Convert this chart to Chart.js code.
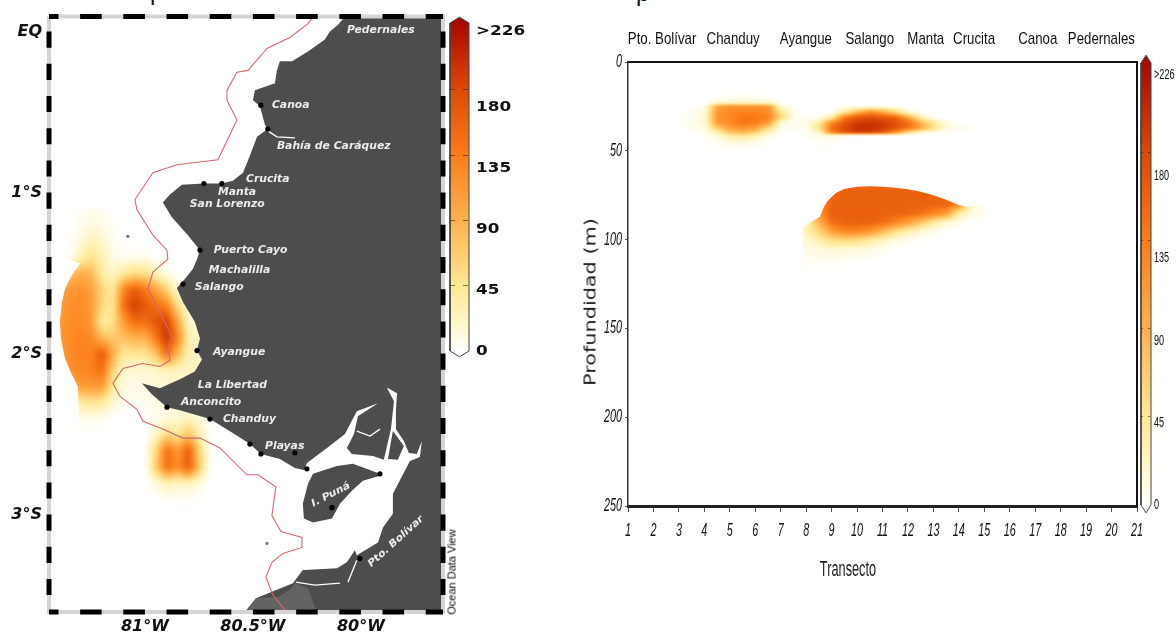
<!DOCTYPE html>
<html lang="es">
<head>
<meta charset="utf-8">
<title>Mapa y transecto</title>
<style>
  html, body { margin: 0; padding: 0; background: #fff; overflow: hidden; }
  body { width: 1176px; height: 633px; position: relative; }
  canvas { position: absolute; top: 0; }
  .lbl { position: absolute; white-space: nowrap; color: #222; font-family: 'Liberation Sans'; }
  .cut { position: absolute; color: #111; font: 24px/24px 'Liberation Sans'; }
</style>
</head>
<body>
<div class="cut" style="left:150px;top:-20px">p</div>
<div class="cut" style="left:636px;top:-19px">p</div>
<canvas id="mapChart" width="448" height="633" style="left:0"></canvas>
<canvas id="mapBar" width="85" height="360" style="left:449px"></canvas>
<canvas id="sectionChart" width="586" height="633" style="left:570px"></canvas>
<canvas id="sectionBar" width="36" height="517" style="left:1140px"></canvas>
<div class="lbl" style="left:452px;top:572px;font-size:10px;color:#000;transform:translate(-50%,-50%) rotate(-90deg) scaleX(1.1)">Ocean Data View</div>
<div class="lbl" style="left:590px;top:302px;font-family:'DejaVu Sans';font-size:16px;transform:translate(-50%,-50%) rotate(-90deg) scaleX(1.3)">Profundidad (m)</div>
<div class="lbl" style="left:848px;top:569px;font-size:22px;transform:translate(-50%,-50%) scaleX(0.58)">Transecto</div>

<script src="https://cdn.jsdelivr.net/npm/chart.js"></script>
<script>
// Escala de color
const colorValues = [0, 4, 20, 45, 90, 135, 180, 226];
const colorHex = ['#ffffff', '#fffdf0', '#fff6c8', '#ffe894', '#ffb14e', '#fb7d18', '#dc4a06', '#a60a00'];
const barTicks = [45, 90, 135, 180];
const barLabelAt = [0, 42, 84, 126, 168, 220];
const barLabels = ['0', '45', '90', '135', '180', '>226'];

// Mapa: ejes
const lonMin = -81.444, lonMax = -79.62, latMin = -3.605, latMax = 0.093;
const lonTicks = [-81, -80.5, -80];
const lonTickLabels = ['81°W', '80.5°W', '80°W'];
const latTicks = [0, -1, -2, -3];
const latTickLabels = ['EQ', '1°S', '2°S', '3°S'];
const lonDashes = [[-81.444, -81.4], [-81.3, -81.2], [-81.1, -81], [-80.9, -80.8], [-80.7, -80.6], [-80.5, -80.4], [-80.3, -80.2], [-80.1, -80], [-79.9, -79.8], [-79.7, -79.62]];
const latDashes = [[0, -0.1], [-0.2, -0.3], [-0.4, -0.5], [-0.6, -0.7], [-0.8, -0.9], [-1, -1.1], [-1.2, -1.3], [-1.4, -1.5], [-1.6, -1.7], [-1.8, -1.9], [-2, -2.1], [-2.2, -2.3], [-2.4, -2.5], [-2.6, -2.7], [-2.8, -2.9], [-3, -3.1], [-3.2, -3.3], [-3.4, -3.5]];

// Mapa: costa
const landLon = [-80.074, -80.106, -80.144, -80.167, -80.245, -80.319, -80.375, -80.389, -80.398, -80.491, -80.5, -80.468, -80.444, -80.431, -80.481, -80.514, -80.546, -80.593, -80.644, -80.727, -80.829, -80.884, -80.917, -80.875, -80.801, -80.745, -80.759, -80.778, -80.815, -80.852, -80.824, -80.769, -80.745, -80.759, -80.736, -80.769, -80.838, -80.931, -81.014, -80.968, -80.898, -80.838, -80.699, -80.593, -80.514, -80.463, -80.375, -80.306, -80.25, -80.236, -80.315, -80.486, -80.537, -79.62, -79.62, -80.074];
const landLat = [0.093, 0.043, 0, -0.049, -0.123, -0.185, -0.185, -0.241, -0.321, -0.364, -0.426, -0.463, -0.58, -0.605, -0.654, -0.772, -0.877, -0.926, -0.944, -0.944, -0.951, -1.012, -1.062, -1.154, -1.265, -1.358, -1.414, -1.475, -1.537, -1.593, -1.679, -1.802, -1.907, -1.981, -2.037, -2.111, -2.16, -2.216, -2.185, -2.253, -2.333, -2.352, -2.407, -2.494, -2.562, -2.623, -2.654, -2.71, -2.728, -3.284, -3.426, -3.519, -3.605, -3.605, 0.093, 0.093];
const patchLon = [-80.528, -80.486, -80.384, -80.329, -80.306, -80.245, -80.204];
const patchLat = [-3.605, -3.519, -3.512, -3.469, -3.426, -3.457, -3.605];
const gulfLon = [-80.329, -80.282, -80.25, -80.157, -80.074, -80.019, -79.921, -80.014, -80.032, -80.065, -80.042, -79.944, -79.894, -79.861, -79.847, -79.88, -79.833, -79.838, -79.838, -79.801, -79.778, -79.741, -79.718, -79.727, -79.773, -79.852, -79.852, -79.898, -79.921, -80.019, -80.028, -80.065, -80.111, -80.282, -80.315];
const gulfLat = [-3.284, -2.79, -2.679, -2.586, -2.5, -2.358, -2.309, -2.389, -2.5, -2.586, -2.623, -2.636, -2.66, -2.469, -2.296, -2.21, -2.247, -2.358, -2.469, -2.543, -2.617, -2.623, -2.543, -2.642, -2.667, -2.87, -2.994, -3.08, -3.173, -3.253, -3.222, -3.296, -3.333, -3.346, -3.426];
const punaLon = [-80.245, -80.222, -80.111, -80.037, -79.921, -79.912, -79.991, -80.042, -80.097, -80.134, -80.222, -80.264, -80.269];
const punaLat = [-2.809, -2.747, -2.698, -2.685, -2.741, -2.759, -2.79, -2.852, -2.932, -3.025, -3.049, -3.025, -2.932];
const deltaLon = [-79.852, -79.875, -79.829, -79.801];
const deltaLat = [-2.481, -2.654, -2.66, -2.574];
const creekLon = [-80.431, -80.389, -80.306, NaN, -80.301, -80.213, -80.097, NaN, -80.019, -80.06, NaN, -80.019, -79.958, -79.912];
const creekLat = [-0.617, -0.654, -0.66, NaN, -3.42, -3.438, -3.426, NaN, -3.284, -3.42, NaN, -2.481, -2.512, -2.469];
const redLon = [-80.222, -80.245, -80.329, -80.435, -80.523, -80.574, -80.62, -80.62, -80.574, -80.662, -80.852, -80.963, -81.046, -81.037, -80.963, -80.898, -80.894, -80.963, -80.986, -80.931, -80.875, -80.894, -80.884, -80.931, -81.009, -81.102, -81.148, -81.116, -81.037, -81.009, -80.917, -80.824, -80.745, -80.653, -80.528, -80.477, -80.394, -80.412, -80.37, -80.273, -80.273, -80.361, -80.412, -80.44, -80.407, -80.352];
const redLat = [0.093, 0.049, -0.037, -0.105, -0.241, -0.253, -0.364, -0.426, -0.549, -0.796, -0.827, -0.877, -1.043, -1.105, -1.265, -1.358, -1.414, -1.494, -1.599, -1.741, -1.895, -1.969, -2.043, -2.08, -2.062, -2.093, -2.185, -2.265, -2.346, -2.42, -2.469, -2.525, -2.525, -2.586, -2.753, -2.753, -2.827, -3.006, -3.105, -3.142, -3.204, -3.241, -3.296, -3.389, -3.5, -3.593];
const isletLon = [-81.079, -80.435];
const isletLat = [-1.272, -3.179];

// Mapa: localidades
const dotLon = [-80.463, -80.431, -80.727, -80.644, -80.745, -80.824, -80.759, -80.898, -80.699, -80.514, -80.463, -80.306, -80.25, -79.912, -80.134, -80.005];
const dotLat = [-0.457, -0.605, -0.944, -0.944, -1.358, -1.568, -1.981, -2.333, -2.407, -2.562, -2.623, -2.617, -2.716, -2.747, -2.957, -3.272];
const placeNames = ['Pedernales', 'Canoa', 'Bahía de Caráquez', 'Crucita', 'Manta', 'San Lorenzo', 'Puerto Cayo', 'Machalilla', 'Salango', 'Ayangue', 'La Libertad', 'Anconcito', 'Chanduy', 'Playas', 'I. Puná', 'Pto. Bolívar'];
const placeLon = [-80.065, -80.412, -80.389, -80.532, -80.662, -80.792, -80.681, -80.704, -80.769, -80.685, -80.755, -80.833, -80.639, -80.444, -80.139, -79.838];
const placeLat = [0.006, -0.457, -0.716, -0.92, -1, -1.074, -1.358, -1.481, -1.586, -1.994, -2.198, -2.302, -2.407, -2.574, -2.877, -3.167];
const placeAngle = [0, 0, 0, 0, 0, 0, 0, 0, 0, 0, 0, 0, 0, 0, -27, -42];

// Mapa: valores
const mapCols = [-81.4, -81.35, -81.3, -81.25, -81.2, -81.15, -81.1, -81.05, -81, -80.95, -80.9, -80.85, -80.8, -80.75, -80.7, -80.65];
const mapRows = [-1.1, -1.2, -1.3, -1.4, -1.5, -1.6, -1.7, -1.8, -1.9, -2, -2.1, -2.2, -2.3, -2.4, -2.5, -2.6, -2.7, -2.8, -2.9, -3];
const mapValues = [
  [0, 0, 2, 5, 3, 0, 0, 0, 0, 0, 0, 0, 0, 0, 0, 0],
  [0, 0, 5, 12, 8, 2, 0, 0, 0, 0, 0, 0, 0, 0, 0, 0],
  [0, 0, 12, 30, 18, 4, 0, 0, 0, 0, 0, 0, 0, 0, 0, 0],
  [0, 0, 30, 50, 30, 8, 4, 5, 4, 0, 0, 0, 0, 0, 0, 0],
  [60, 75, 95, 85, 35, 20, 40, 55, 50, 25, 5, 0, 0, 0, 0, 0],
  [100, 112, 118, 105, 60, 40, 130, 165, 140, 100, 60, 10, 0, 0, 0, 0],
  [110, 118, 122, 110, 60, 40, 150, 190, 165, 150, 130, 50, 5, 0, 0, 0],
  [112, 120, 125, 110, 30, 50, 110, 150, 150, 170, 190, 100, 18, 10, 5, 0],
  [112, 122, 128, 125, 85, 70, 80, 90, 90, 140, 200, 130, 30, 20, 15, 5],
  [105, 125, 130, 130, 170, 95, 40, 45, 45, 75, 150, 80, 28, 22, 20, 8],
  [85, 120, 125, 130, 150, 60, 15, 15, 15, 20, 25, 22, 22, 22, 20, 8],
  [0, 90, 110, 110, 110, 40, 8, 8, 10, 12, 15, 18, 18, 15, 5, 0],
  [0, 0, 40, 45, 40, 15, 3, 3, 5, 8, 12, 12, 12, 5, 0, 0],
  [0, 0, 5, 5, 4, 0, 0, 0, 0, 5, 12, 15, 25, 10, 0, 0],
  [0, 0, 0, 0, 0, 0, 0, 0, 0, 20, 60, 40, 80, 30, 0, 0],
  [0, 0, 0, 0, 0, 0, 0, 0, 0, 60, 150, 110, 165, 60, 0, 0],
  [0, 0, 0, 0, 0, 0, 0, 0, 0, 70, 150, 120, 170, 70, 0, 0],
  [0, 0, 0, 0, 0, 0, 0, 0, 0, 10, 30, 20, 25, 10, 0, 0],
  [0, 0, 0, 0, 0, 0, 0, 0, 0, 0, 2, 2, 2, 0, 0, 0],
  [0, 0, 0, 0, 0, 0, 0, 0, 0, 0, 0, 0, 0, 0, 0, 0]
];
const mapMaskLon = [-81.44, -81.3, -81.338, -81.37, -81.384, -81.394, -81.389, -81.37, -81.338, -81.31, -81.306, -81.44];
const mapMaskLat = [-1.37, -1.44, -1.512, -1.599, -1.679, -1.802, -1.907, -2.031, -2.13, -2.204, -2.42, -2.42];

// Transecto
const stationNames = ['Pto. Bolívar', 'Chanduy', 'Ayangue', 'Salango', 'Manta', 'Crucita', 'Canoa', 'Pedernales'];
const stationAt = [2.34, 5.13, 7.99, 10.5, 12.7, 14.6, 17.1, 19.6];
const depthTicks = [0, 50, 100, 150, 200, 250];
const sectionCols = [3, 3.5, 4, 4.5, 5, 5.5, 6, 6.5, 7, 7.5, 8, 8.5, 9, 9.5, 10, 10.5, 11, 11.5, 12, 12.5, 13, 13.5, 14, 14.5, 15];
const sectionRows = [15, 20, 23, 24.5, 28, 31, 34, 37, 39.5, 41, 45, 50, 60, 68, 80, 85, 90, 95, 100, 105, 112, 118];
const sectionValues = [
  [0, 0, 0, 0, 0, 0, 0, 0, 0, 0, 0, 0, 0, 0, 0, 0, 0, 0, 0, 0, 0, 0, 0, 0, 0],
  [0, 0, 0, 2, 3, 3, 3, 2, 0, 0, 0, 0, 0, 0, 0, 0, 0, 0, 0, 0, 0, 0, 0, 0, 0],
  [0, 0, 1, 20, 25, 25, 25, 20, 2, 0, 0, 0, 0, 0, 0, 0, 0, 0, 0, 0, 0, 0, 0, 0, 0],
  [0, 1, 4, 100, 115, 115, 115, 110, 12, 0, 0, 0, 0, 0, 0, 0, 0, 0, 0, 0, 0, 0, 0, 0, 0],
  [1, 3, 12, 115, 125, 130, 130, 125, 45, 5, 0, 0, 0, 40, 90, 125, 100, 60, 10, 0, 0, 0, 0, 0, 0],
  [1, 4, 15, 115, 125, 140, 140, 130, 60, 5, 3, 3, 40, 140, 170, 178, 170, 160, 100, 30, 0, 0, 0, 0, 0],
  [2, 5, 15, 110, 125, 140, 135, 110, 10, 4, 8, 40, 130, 170, 190, 195, 190, 175, 150, 90, 40, 8, 2, 0, 0],
  [1, 3, 10, 70, 105, 115, 100, 55, 5, 3, 6, 50, 150, 180, 200, 200, 190, 170, 140, 100, 50, 12, 5, 3, 1],
  [0, 1, 4, 30, 75, 85, 65, 20, 2, 0, 3, 20, 130, 170, 185, 185, 165, 120, 50, 12, 2, 0, 0, 0, 0],
  [0, 0, 2, 15, 40, 45, 30, 8, 0, 0, 2, 8, 12, 3, 0, 0, 0, 0, 0, 0, 0, 0, 0, 0, 0],
  [0, 0, 1, 3, 8, 10, 6, 2, 0, 0, 0, 2, 2, 0, 0, 0, 0, 0, 0, 0, 0, 0, 0, 0, 0],
  [0, 0, 0, 0, 0, 0, 0, 0, 0, 0, 0, 0, 0, 0, 0, 0, 0, 0, 0, 0, 0, 0, 0, 0, 0],
  [0, 0, 0, 0, 0, 0, 0, 0, 0, 0, 0, 0, 0, 0, 0, 0, 0, 0, 0, 0, 0, 0, 0, 0, 0],
  [0, 0, 0, 0, 0, 0, 0, 0, 0, 10, 10, 115, 158, 158, 158, 158, 158, 158, 158, 158, 158, 158, 155, 20, 5],
  [0, 0, 0, 0, 0, 0, 0, 0, 0, 15, 15, 120, 160, 160, 160, 160, 160, 160, 160, 160, 158, 155, 120, 15, 5],
  [0, 0, 0, 0, 0, 0, 0, 0, 0, 20, 20, 115, 162, 162, 162, 162, 160, 158, 155, 145, 128, 108, 35, 10, 5],
  [0, 0, 0, 0, 0, 0, 0, 0, 0, 28, 28, 90, 148, 158, 160, 158, 150, 128, 105, 75, 40, 15, 5, 0, 0],
  [0, 0, 0, 0, 0, 0, 0, 0, 0, 28, 28, 65, 105, 128, 128, 115, 85, 55, 30, 12, 5, 0, 0, 0, 0],
  [0, 0, 0, 0, 0, 0, 0, 0, 0, 15, 15, 35, 55, 60, 55, 40, 22, 10, 4, 0, 0, 0, 0, 0, 0],
  [0, 0, 0, 0, 0, 0, 0, 0, 0, 8, 8, 12, 15, 15, 12, 8, 4, 0, 0, 0, 0, 0, 0, 0, 0],
  [0, 0, 0, 0, 0, 0, 0, 0, 0, 3, 3, 3, 3, 2, 0, 0, 0, 0, 0, 0, 0, 0, 0, 0, 0],
  [0, 0, 0, 0, 0, 0, 0, 0, 0, 0, 0, 0, 0, 0, 0, 0, 0, 0, 0, 0, 0, 0, 0, 0, 0]
];
const sectionMaskT = [6.9, 6.9, 15.6, 15.6, 14.3, 14, 13.5, 13, 12.5, 12, 11.5, 11, 10.5, 10, 9.5, 9.2, 9, 8.8, 8.65, 8.55, 8.2, 7.9, 7.85];
const sectionMaskD = [120, 60, 60, 79, 81.5, 80.5, 77.5, 75, 73, 71.7, 70.8, 70.2, 70, 70.3, 71.5, 73.5, 76, 79, 83, 87, 90, 93, 120];

// Une dos listas en puntos para Chart.js
function toPoints(xs, ys) {
  return xs.map((x, i) => ({ x: x, y: ys[i] }));
}

function polygon(xs, ys, color) {
  return { data: toPoints(xs, ys), showLine: true, fill: 'shape', backgroundColor: color, borderColor: color, borderWidth: 0, pointRadius: 0 };
}

function polyline(xs, ys, color, width, clip) {
  return { data: toPoints(xs, ys), showLine: true, fill: false, borderColor: color, borderWidth: width, pointRadius: 0, clip: clip };
}

function dashPoints(pairs, fixed, horizontal) {
  const out = [];
  pairs.forEach(p => {
    if (horizontal) out.push({ x: p[0], y: fixed }, { x: p[1], y: fixed }, { x: NaN, y: NaN });
    else out.push({ x: fixed, y: p[0] }, { x: fixed, y: p[1] }, { x: NaN, y: NaN });
  });
  return out;
}

function hexToRgb(h) {
  return [parseInt(h.slice(1, 3), 16), parseInt(h.slice(3, 5), 16), parseInt(h.slice(5, 7), 16)];
}
const colorRgb = colorHex.map(hexToRgb);

function colorFor(v) {
  if (v <= colorValues[0]) return colorRgb[0];
  for (let i = 1; i < colorValues.length; i++) {
    if (v <= colorValues[i]) {
      const f = (v - colorValues[i - 1]) / (colorValues[i] - colorValues[i - 1]);
      return colorRgb[i].map((c, k) => colorRgb[i - 1][k] + (c - colorRgb[i - 1][k]) * f);
    }
  }
  return colorRgb[colorRgb.length - 1];
}

function bracket(arr, v) {
  let i = 0;
  while (i < arr.length - 2 && v > arr[i + 1]) i++;
  return [i, (v - arr[i]) / (arr[i + 1] - arr[i])];
}

// Pinta la malla de valores usando las escalas del grafico
function heatPlugin(cols, rows, values, blur) {
  return {
    id: 'heat',
    beforeDatasetsDraw(chart) {
      const ctx = chart.ctx, xs = chart.scales.x, ys = chart.scales.y, area = chart.chartArea;
      const px = cols.map(v => xs.getPixelForValue(v));
      const py = rows.map(v => ys.getPixelForValue(v));
      const x0 = Math.floor(px[0]), y0 = Math.floor(py[0]);
      const w = Math.ceil(px[px.length - 1]) - x0, h = Math.ceil(py[py.length - 1]) - y0;
      const off = document.createElement('canvas');
      off.width = w; off.height = h;
      const octx = off.getContext('2d');
      const img = octx.createImageData(w, h);
      for (let j = 0; j < h; j++) {
        const [r, fy] = bracket(py, y0 + j);
        for (let i = 0; i < w; i++) {
          const [c, fx] = bracket(px, x0 + i);
          const a = values[r][c] * (1 - fx) + values[r][c + 1] * fx;
          const b = values[r + 1][c] * (1 - fx) + values[r + 1][c + 1] * fx;
          const rgb = colorFor(a * (1 - fy) + b * fy);
          const k = (j * w + i) * 4;
          img.data[k] = rgb[0]; img.data[k + 1] = rgb[1]; img.data[k + 2] = rgb[2]; img.data[k + 3] = 255;
        }
      }
      octx.putImageData(img, 0, 0);
      ctx.save();
      ctx.beginPath();
      ctx.rect(area.left, area.top, area.width, area.height);
      ctx.clip();
      ctx.filter = 'blur(' + blur + 'px)';
      ctx.drawImage(off, x0, y0);
      ctx.restore();
    }
  };
}

// Nombres de lugares sobre el mapa
const placesPlugin = {
  id: 'places',
  afterDatasetsDraw(chart) {
    const ctx = chart.ctx;
    ctx.save();
    ctx.font = 'italic bold 10px "DejaVu Sans"';
    ctx.fillStyle = '#ececec';
    ctx.textBaseline = 'middle';
    placeNames.forEach((name, i) => {
      ctx.save();
      ctx.translate(chart.scales.x.getPixelForValue(placeLon[i]), chart.scales.y.getPixelForValue(placeLat[i]));
      ctx.rotate(placeAngle[i] * Math.PI / 180);
      ctx.scale(1.08, 1);
      ctx.textAlign = placeAngle[i] ? 'center' : 'left';
      ctx.fillText(name, 0, 0);
      ctx.restore();
    });
    ctx.restore();
  }
};

// Etiquetas de eje con ancho ajustado (las fuentes instaladas no traen version angosta)
function stretchedLabels(axes) {
  return {
    id: 'stretchedLabels',
    afterDraw(chart) {
      const ctx = chart.ctx, area = chart.chartArea;
      axes.forEach(a => {
        const s = chart.scales[a.scale];
        ctx.save();
        ctx.font = a.font;
        ctx.fillStyle = '#111';
        ctx.textBaseline = 'middle';
        ctx.textAlign = a.align;
        s.ticks.forEach((t, i) => {
          const p = s.getPixelForValue(t.value);
          ctx.save();
          if (s.isHorizontal()) ctx.translate(p, a.side === 'top' ? area.top - a.gap : area.bottom + a.gap);
          else ctx.translate(a.side === 'left' ? area.left - a.gap : area.right + a.gap, p);
          ctx.scale(a.sx, 1);
          ctx.fillText(a.text ? a.text[i] : String(t.value), 0, 0);
          ctx.restore();
        });
        ctx.restore();
      });
    }
  };
}

const quiet = { legend: { display: false }, tooltip: { enabled: false } };
const mapFont = { family: '"DejaVu Sans"', size: 16, weight: 'bold', style: 'italic' };

new Chart(document.getElementById('mapChart'), {
  type: 'scatter',
  data: {
    datasets: [
      { data: toPoints(dotLon, dotLat), pointRadius: 2.6, backgroundColor: '#000', borderWidth: 0 },
      { data: dashPoints(lonDashes, latMax, true), showLine: true, borderColor: '#000', borderWidth: 5, pointRadius: 0, clip: false },
      { data: dashPoints(lonDashes, latMin, true), showLine: true, borderColor: '#000', borderWidth: 5, pointRadius: 0, clip: false },
      { data: dashPoints(latDashes, lonMin, false), showLine: true, borderColor: '#000', borderWidth: 5, pointRadius: 0, clip: false },
      { data: dashPoints(latDashes, lonMax, false), showLine: true, borderColor: '#000', borderWidth: 5, pointRadius: 0, clip: false },
      polyline([lonMin, lonMax, lonMax, lonMin, lonMin], [latMax, latMax, latMin, latMin, latMax], '#d4d4d4', 4, false),
      { data: toPoints(isletLon, isletLat), pointRadius: 1.6, backgroundColor: '#777', borderWidth: 0 },
      polyline(redLon, redLat, '#d4686c', 1.1),
      polyline(creekLon, creekLat, '#ffffff', 1.3),
      polygon(deltaLon, deltaLat, '#4d4d4d'),
      polygon(punaLon, punaLat, '#4d4d4d'),
      polygon(gulfLon, gulfLat, '#ffffff'),
      polygon(patchLon, patchLat, '#636363'),
      polygon(landLon, landLat, '#4d4d4d'),
      polygon(mapMaskLon, mapMaskLat, '#ffffff')
    ]
  },
  options: {
    responsive: false,
    animation: false,
    layout: { padding: { top: 13, right: 5 } },
    plugins: quiet,
    scales: {
      x: {
        type: 'linear', min: lonMin, max: lonMax,
        afterFit(s) { s.height = 21; },
        afterBuildTicks(s) { s.ticks = lonTicks.map(v => ({ value: v })); },
        grid: { display: false, drawTicks: false }, border: { display: false },
        ticks: { autoSkip: false, maxRotation: 0, padding: 5, color: '#111', font: mapFont, callback: (v, i) => lonTickLabels[i] }
      },
      y: {
        type: 'linear', min: latMin, max: latMax,
        afterFit(s) { s.width = 49; },
        afterBuildTicks(s) { s.ticks = latTicks.map(v => ({ value: v })); },
        grid: { display: false, drawTicks: false }, border: { display: false },
        ticks: { autoSkip: false, padding: 7, color: '#111', font: mapFont, callback: v => latTickLabels[latTicks.indexOf(v)] }
      }
    }
  },
  plugins: [heatPlugin(mapCols, mapRows, mapValues, 2.5), placesPlugin]
});

new Chart(document.getElementById('sectionChart'), {
  type: 'scatter',
  data: { datasets: [polygon(sectionMaskT, sectionMaskD, '#ffffff')] },
  options: {
    responsive: false,
    animation: false,
    layout: { padding: { right: 16 } },
    plugins: quiet,
    scales: {
      x: {
        type: 'linear', min: 1, max: 21,
        afterFit(s) { s.height = 127; },
        grid: { drawOnChartArea: false, tickLength: 6, color: '#555' },
        border: { color: '#222', width: 3 },
        ticks: { stepSize: 1, display: false }
      },
      top: {
        type: 'linear', position: 'top', min: 1, max: 21,
        afterFit(s) { s.height = 62; },
        afterBuildTicks(s) { s.ticks = stationAt.map(v => ({ value: v })); },
        grid: { display: false, drawTicks: false },
        border: { color: '#111', width: 2 },
        ticks: { display: false }
      },
      y: {
        type: 'linear', reverse: true, min: 0, max: 250,
        afterFit(s) { s.width = 58; },
        afterBuildTicks(s) { s.ticks = depthTicks.map(v => ({ value: v })); },
        grid: { drawOnChartArea: false, tickLength: 3, color: '#555' },
        border: { color: '#333', width: 1.5 },
        ticks: { display: false }
      },
      right: {
        type: 'linear', position: 'right', min: 0, max: 250,
        afterFit(s) { s.width = 3; },
        grid: { display: false, drawTicks: false },
        border: { color: '#111', width: 2 },
        ticks: { display: false }
      }
    }
  },
  plugins: [
    heatPlugin(sectionCols, sectionRows, sectionValues, 1.2),
    stretchedLabels([
      { scale: 'x', side: 'bottom', gap: 25, align: 'center', sx: 0.6, font: 'italic 18px "Liberation Sans"' },
      { scale: 'y', side: 'left', gap: 6, align: 'right', sx: 0.6, font: 'italic 18px "Liberation Sans"' },
      { scale: 'top', side: 'top', gap: 23, align: 'center', sx: 0.78, font: '17px "Liberation Sans"', text: stationNames }
    ])
  ]
});

// Barra de color con sus flechas
function colorbar(id, padTop, labelWidth, labelGap, labelFont, labelScale, dash) {
  const barXs = [0, 0.5, 1, 1, 0.5, 0, 0];
  const barYs = [0, -4, 0, 226, 230, 226, 0];
  new Chart(document.getElementById(id), {
    type: 'scatter',
    data: {
      datasets: [{
        data: toPoints(barXs, barYs),
        showLine: true, fill: 'shape', pointRadius: 0, clip: false,
        borderColor: '#444', borderWidth: 1,
        backgroundColor(ctx) {
          const c = ctx.chart, s = c.scales.y;
          const a = s ? s.getPixelForValue(0) : NaN, b = s ? s.getPixelForValue(226) : NaN;
          if (!isFinite(a) || !isFinite(b)) return '#ffffff';
          const g = c.ctx.createLinearGradient(0, a, 0, b);
          colorValues.forEach((v, i) => g.addColorStop(v / 226, colorHex[i]));
          return g;
        }
      }]
    },
    options: {
      responsive: false,
      animation: false,
      layout: { padding: { top: padTop, bottom: 0.3, left: 1 } },
      plugins: quiet,
      scales: {
        x: { type: 'linear', min: 0, max: 1, display: false },
        y: {
          type: 'linear', min: -6, max: 232,
          afterFit(s) { s.width = 0; },
          afterBuildTicks(s) { s.ticks = barTicks.map(v => ({ value: v })); },
          grid: { color: 'rgba(60,30,0,0.6)', drawTicks: false, z: 1 },
          border: { display: false, dash: dash },
          ticks: { display: false }
        },
        y1: {
          type: 'linear', position: 'right', min: -6, max: 232,
          afterFit(s) { s.width = labelWidth; },
          afterBuildTicks(s) { s.ticks = barLabelAt.map(v => ({ value: v })); },
          grid: { display: false, drawTicks: false }, border: { display: false },
          ticks: { display: false }
        }
      }
    },
    plugins: [stretchedLabels([{ scale: 'y1', side: 'right', gap: labelGap, align: 'left', sx: labelScale, font: labelFont, text: barLabels }])]
  });
}

colorbar('mapBar', 14.3, 65, 7, 'bold 14px "DejaVu Sans"', 1.2, [5, 8, 5]);
colorbar('sectionBar', 51.3, 25, 3, '14px "Liberation Sans"', 0.65, [2, 5, 2]);
</script>
</body>
</html>
